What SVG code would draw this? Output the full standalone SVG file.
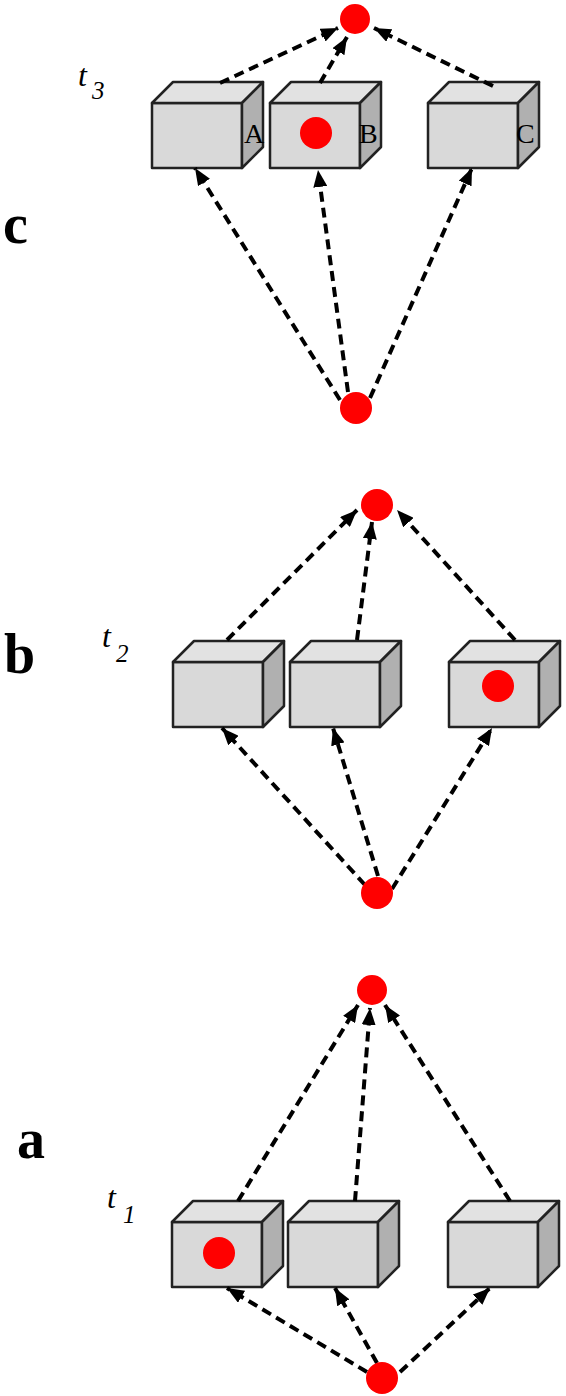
<svg xmlns="http://www.w3.org/2000/svg" width="566" height="1396" viewBox="0 0 566 1396">
<style>
.front{fill:#d9d9d9;stroke:#222;stroke-width:2.5;stroke-linejoin:round}
.top{fill:#e2e2e2;stroke:#222;stroke-width:2.5;stroke-linejoin:round}
.side{fill:#b0b0b0;stroke:#222;stroke-width:2.5;stroke-linejoin:round}
.dot{fill:#ff0000}
.conn{fill:none;stroke:#000;stroke-width:4;stroke-dasharray:10 6;marker-end:url(#arr)}
.panel{font-family:"Liberation Serif",serif;font-weight:bold;font-size:56px;fill:#000}
.t{font-family:"Liberation Serif",serif;font-style:italic;font-size:32px;fill:#000}
.sub{font-family:"Liberation Serif",serif;font-style:italic;font-size:25px;fill:#000}
.lbl{font-family:"Liberation Serif",serif;font-size:28px;fill:#000}
</style>
<defs>
<marker id="arr" markerUnits="userSpaceOnUse" markerWidth="17" markerHeight="14" refX="17" refY="7" orient="auto">
<path d="M0,0 L17,7 L0,14 z" fill="#000"/>
</marker>
<g id="cube">
<rect class="front" x="0" y="0" width="90" height="65"/>
<polygon class="top" points="0,0 21,-21 111,-21 90,0"/>
<polygon class="side" points="90,0 111,-21 111,44 90,65"/>
</g>
</defs>

<!-- Panel c -->
<g id="label-c"><text class="panel" x="3" y="243">c</text></g>
<g id="label-t3"><text class="t" x="78" y="86">t</text><text class="sub" x="92" y="99">3</text></g>
<g id="c-cubeA"><use href="#cube" x="152" y="103"/><text class="lbl" x="244" y="143">A</text></g>
<g id="c-cubeB"><use href="#cube" x="270" y="103"/><text class="lbl" x="359" y="143">B</text><circle class="dot" cx="316" cy="133" r="16"/></g>
<g id="c-cubeC"><use href="#cube" x="428" y="103"/><text class="lbl" x="516" y="143">C</text></g>

<!-- Panel b -->
<g id="label-b"><text class="panel" x="4" y="673">b</text></g>
<g id="label-t2"><text class="t" x="102" y="647">t</text><text class="sub" x="116" y="662">2</text></g>
<g id="b-cube1"><use href="#cube" x="173" y="662"/></g>
<g id="b-cube2"><use href="#cube" x="290" y="662"/></g>
<g id="b-cube3"><use href="#cube" x="449" y="662"/><circle class="dot" cx="498" cy="686" r="16"/></g>

<!-- Panel a -->
<g id="label-a"><text class="panel" x="17" y="1158">a</text></g>
<g id="label-t1"><text class="t" x="107" y="1208">t</text><text class="sub" x="123" y="1223">1</text></g>
<g id="a-cube1"><use href="#cube" x="172" y="1222"/><circle class="dot" cx="219" cy="1253" r="16"/></g>
<g id="a-cube2"><use href="#cube" x="288" y="1222"/></g>
<g id="a-cube3"><use href="#cube" x="448" y="1222"/></g>

<g id="connectors">
<line class="conn" x1="220" y1="83" x2="338" y2="28"/>
<line class="conn" x1="320" y1="83" x2="347" y2="37"/>
<line class="conn" x1="493" y1="86" x2="374" y2="28"/>
<line class="conn" x1="340" y1="400" x2="195" y2="168"/>
<line class="conn" x1="348" y1="392" x2="318" y2="170"/>
<line class="conn" x1="370" y1="398" x2="472" y2="168"/>

<line class="conn" x1="227" y1="640" x2="357" y2="510"/>
<line class="conn" x1="357" y1="640" x2="372" y2="522"/>
<line class="conn" x1="515" y1="640" x2="397" y2="510"/>
<line class="conn" x1="365" y1="885" x2="222" y2="728"/>
<line class="conn" x1="378" y1="876" x2="333" y2="728"/>
<line class="conn" x1="392" y1="889" x2="492" y2="728"/>

<line class="conn" x1="238" y1="1201" x2="358" y2="1005"/>
<line class="conn" x1="355" y1="1201" x2="370" y2="1008"/>
<line class="conn" x1="510" y1="1201" x2="385" y2="1005"/>
<line class="conn" x1="367" y1="1372" x2="227" y2="1288"/>
<line class="conn" x1="377" y1="1363" x2="335" y2="1288"/>
<line class="conn" x1="400" y1="1372" x2="490" y2="1288"/>
</g>

<g id="c-top"><circle class="dot" cx="355" cy="19" r="15"/></g>
<g id="c-bottom"><circle class="dot" cx="356" cy="408" r="16"/></g>
<g id="b-top"><circle class="dot" cx="377" cy="505" r="16"/></g>
<g id="b-bottom"><circle class="dot" cx="377" cy="893" r="16"/></g>
<g id="a-top"><circle class="dot" cx="372" cy="990" r="15"/></g>
<g id="a-bottom"><circle class="dot" cx="382" cy="1378" r="16"/></g>
</svg>
